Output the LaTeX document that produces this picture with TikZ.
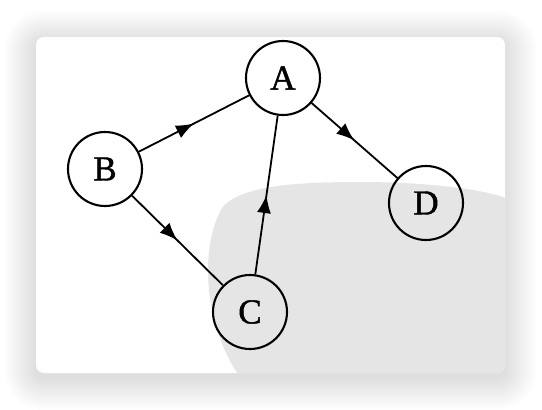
\documentclass[tikz,border=0pt]{standalone}
\usepackage{fontspec}
\setmainfont{Liberation Serif}
\newfontfamily\lblfont[FakeBold=1.2]{Liberation Serif}
\usetikzlibrary{arrows.meta,decorations.markings}
\begin{document}
\begin{tikzpicture}[x=1pt,y=-1pt,
  vertex/.style={circle,draw,line width=2.1pt,minimum size=74pt,inner sep=0pt,
    font=\lblfont\fontsize{35}{35}\selectfont},
  edge/.style={line width=1.8pt,postaction={decorate},
    decoration={markings,mark=at position 0.5 with {\arrow{Latex[length=18pt,width=14pt]}}}}]
\useasboundingbox (0,0) rectangle (542,410);
\fill[white] (0,0) rectangle (542,410);
\foreach \i in {1,...,32}
  \fill[black,opacity=0.0045,rounded corners=8pt+\i pt] (36-\i,37-\i+5) rectangle (505+\i,373+\i+5);
\fill[white,rounded corners=8pt] (36,37) rectangle (505,373);
\begin{scope}
  \clip[rounded corners=8pt] (36,37) rectangle (505,373);
  \fill[black!10] (242,380) .. controls (205,330) and (198,250) .. (222,208)
    .. controls (240,185) and (300,182) .. (360,182)
    .. controls (430,182) and (490,190) .. (510,200) -- (510,380) -- cycle;
\end{scope}
\node[vertex] (A) at (283,78) {A};
\node[vertex] (B) at (105,169) {B};
\node[vertex] (C) at (250,312) {C};
\node[vertex] (D) at (426,203) {D};
\draw[edge] (B) -- (A);
\draw[edge] (A) -- (D);
\draw[edge] (B) -- (C);
\draw[edge] (C) -- (A);
\end{tikzpicture}
\end{document}
